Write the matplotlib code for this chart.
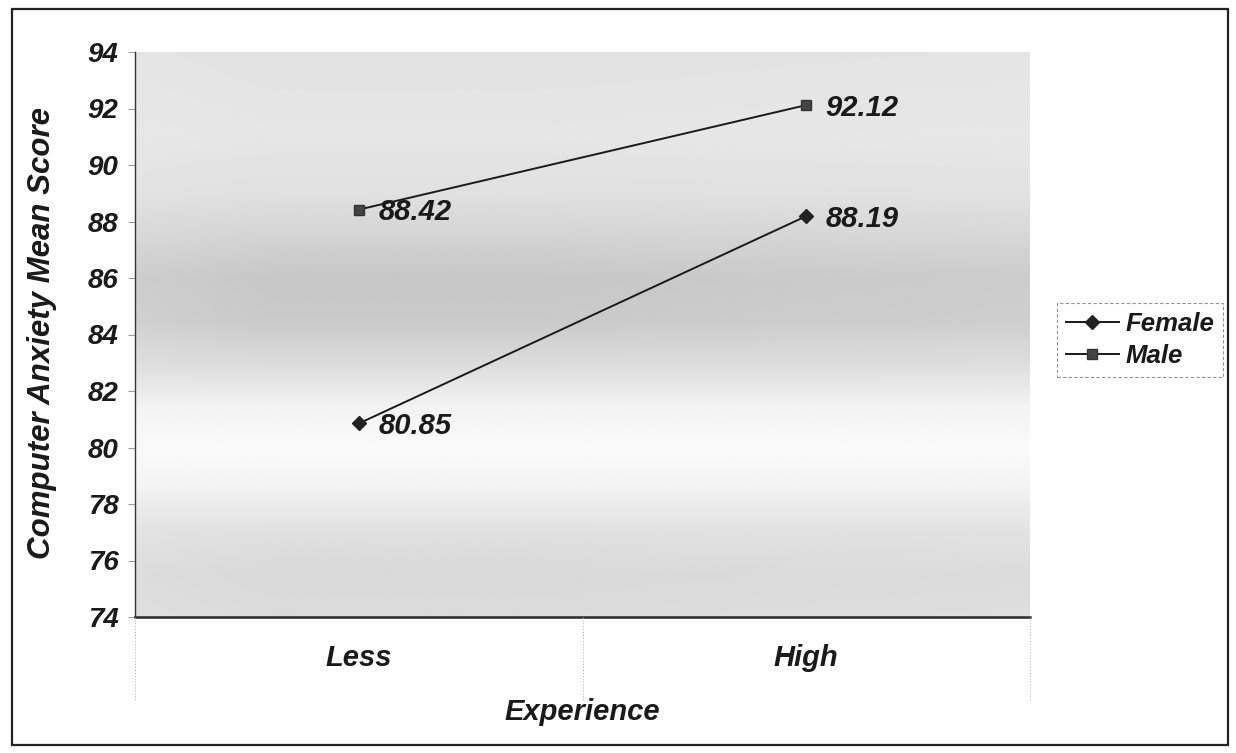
import numpy as np
import matplotlib
matplotlib.use("Agg")
import matplotlib.pyplot as plt
from matplotlib.patches import Rectangle

categories = ["Less", "High"]
female = [80.85, 88.19]
male = [88.42, 92.12]
yticks = [74, 76, 78, 80, 82, 84, 86, 88, 90, 92, 94]

plt.rcParams['font.family'] = ['Liberation Sans', 'DejaVu Sans']
TXT = '#1a1a1a'
BI = dict(fontweight='bold', fontstyle='italic', color=TXT)

W, H = 1236, 753
fig = plt.figure(figsize=(W/100, H/100), dpi=100)
fig.patch.set_facecolor('white')

L, R, T, B = 135, 1030, 52, 617
ax = fig.add_axes([L/W, 1-B/H, (R-L)/W, (B-T)/H])

# background shading (scanned gray gradient), decorative only
stops_y = [74, 75.5, 77, 78.5, 80, 81.5, 83, 84.5, 86, 87.5, 89, 91, 94]
stops_v = [0.86, 0.85, 0.88, 0.95, 0.98, 0.95, 0.86, 0.79, 0.78, 0.83, 0.88, 0.90, 0.89]
yy = np.linspace(74, 94, 400)
vv = np.interp(yy, stops_y, stops_v)
xx = np.linspace(0, 1, 200)
hmod = 0.04 * np.interp(xx, [0, 0.15, 0.45, 0.75, 1.0], [0.6, 0.0, 0.0, 0.3, 0.5])
dark = np.clip(0.93 - vv, 0, None)[:, None]
img = vv[:, None] + hmod[None, :] * (dark / 0.15)
img = np.clip(img, 0, 1)
ax.imshow(img, cmap='gray', vmin=0, vmax=1, aspect='auto',
          extent=[-0.5, 1.5, 74, 94], origin='lower', zorder=0,
          interpolation='bilinear')

x = np.arange(len(categories))
ax.plot(x, female, color='#1a1a1a', lw=1.4, marker='D', ms=7,
        mfc='#222222', mec='#222222', label='Female', zorder=3)
ax.plot(x, male, color='#1a1a1a', lw=1.4, marker='s', ms=7,
        mfc='#444444', mec='#333333', label='Male', zorder=3)

for series in (female, male):
    for xi, v in zip(x, series):
        ax.annotate(f"{v:.2f}", (xi, v), xytext=(14, -2), textcoords='offset points',
                    ha='left', va='center', fontsize=21, **BI)

ax.set_xlim(-0.5, 1.5)
ax.set_ylim(74, 94)
ax.set_yticks(yticks)
ax.set_yticklabels([str(t) for t in yticks], fontsize=20, **BI)
ax.set_xticks([])
ax.tick_params(axis='y', length=5, width=0.6, color='#888888', pad=7)
for s in ['top', 'right']:
    ax.spines[s].set_visible(False)
ax.spines['left'].set_color('#333333')
ax.spines['left'].set_linewidth(1.0)
ax.spines['bottom'].set_color('#2a2a2a')
ax.spines['bottom'].set_linewidth(1.8)

# category label band below the plot
cat_top = B
cat_bot = 700
for px in [L, (L+R)/2, R]:
    fig.add_artist(plt.Line2D([px/W, px/W], [1-cat_top/H, 1-cat_bot/H],
                              color='#aaaaaa', lw=0.7, ls=(0, (1, 2))))
for xi, c in zip(x, categories):
    px = L + (R-L)*(xi+0.5)/2
    fig.text(px/W, 1-658/H, c, ha='center', va='center', fontsize=21, **BI)

fig.text(((L+R)/2)/W, 1-712/H, "Experience", ha='center', va='center',
         fontsize=21, **BI)
fig.text(42/W, 1-333/H, "Computer Anxiety Mean Score", ha='center', va='center',
         rotation=90, fontsize=22.5, **BI)

leg = fig.legend(loc='upper left', bbox_to_anchor=(1057/W, 1-303/H),
                 frameon=True, fancybox=False, edgecolor='#777777',
                 prop={'size': 18.5, 'weight': 'bold', 'style': 'italic'},
                 handlelength=2.05, borderpad=0.35, labelspacing=0.3,
                 handletextpad=0.27, borderaxespad=0)
leg.get_frame().set_linewidth(0.8)
leg.get_frame().set_linestyle((0, (3, 2)))
for t in leg.get_texts():
    t.set_color(TXT)

# outer border
fig.add_artist(Rectangle((12/W, 1-745/H), (1228-12)/W, (745-9)/H,
                         transform=fig.transFigure, fill=False,
                         edgecolor='#222222', lw=1.6))

fig.savefig("out.png", dpi=100, facecolor='white')
